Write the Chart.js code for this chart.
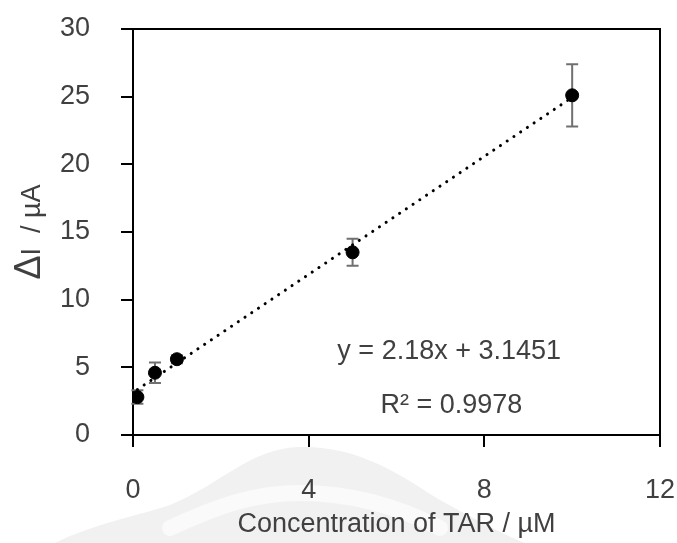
<!DOCTYPE html>
<html>
<head>
<meta charset="utf-8">
<script src="https://cdn.jsdelivr.net/npm/chart.js@4.4.1/dist/chart.umd.min.js"></script>
<style>
html, body { margin: 0; padding: 0; background: #fff; }
#wrap { width: 677px; height: 543px; }
</style>
</head>
<body>
<div id="wrap"><canvas id="tarChart" width="677" height="543"></canvas></div>
<script>
// calibration data
var conc = [0.1, 0.5, 1, 5, 10];
var deltaI = [2.8, 4.6, 5.6, 13.5, 25.1];
var errI = [0.5, 0.75, 0.3, 1.0, 2.3];

// linear fit endpoints (y = 2.18x + 3.1451)
var trendX = [0.1, 10];
var trendY = [3.36, 24.95];

var xTicks = [0, 4, 8, 12];
var yTicks = [0, 5, 10, 15, 20, 25, 30];
var eqText = 'y = 2.18x + 3.1451';
var r2Text = 'R\u00B2 = 0.9978';

var textColor = '#404040';
var fontFam = '"Liberation Sans", Arial, sans-serif';
var fs = 27;

var frame = {
	id: 'frame',
	beforeDraw: function(chart){
		// faint watermark behind the bottom of the figure
		var c = chart.ctx;
		c.save();
		c.fillStyle = '#f1f1f1';
		c.beginPath();
		c.moveTo(55, 543);
		c.bezierCurveTo(90, 525, 140, 515, 170, 505);
		c.bezierCurveTo(220, 485, 250, 448, 300, 447);
		c.bezierCurveTo(360, 446, 400, 475, 440, 500);
		c.bezierCurveTo(480, 522, 505, 535, 525, 543);
		c.closePath();
		c.fill();
		c.strokeStyle = '#fafafa';
		c.lineWidth = 16;
		c.lineCap = 'round';
		c.beginPath();
		c.moveTo(170, 528);
		c.bezierCurveTo(220, 505, 255, 493, 300, 493);
		c.bezierCurveTo(350, 493, 395, 505, 440, 528);
		c.stroke();
		c.restore();
	},
	beforeDatasetsDraw: function(chart){
		var c = chart.ctx, x = chart.scales.x, y = chart.scales.y;
		// error bars (behind markers)
		c.save();
		c.strokeStyle = '#707070';
		c.lineWidth = 2;
		for (var i = 0; i < conc.length; i++) {
			var px = x.getPixelForValue(conc[i]);
			var t = y.getPixelForValue(deltaI[i] + errI[i]);
			var b = y.getPixelForValue(deltaI[i] - errI[i]);
			c.beginPath();
			c.moveTo(px, t); c.lineTo(px, b);
			c.moveTo(px - 6, t); c.lineTo(px + 6, t);
			c.moveTo(px - 6, b); c.lineTo(px + 6, b);
			c.stroke();
		}
		c.restore();
	},
	afterDraw: function(chart){
		var c = chart.ctx, a = chart.chartArea, x = chart.scales.x, y = chart.scales.y;
		c.save();
		// top and right border
		c.strokeStyle = '#000';
		c.lineWidth = 2;
		c.beginPath();
		c.moveTo(a.left, a.top); c.lineTo(a.right, a.top); c.lineTo(a.right, a.bottom);
		c.stroke();
		// equation text
		c.fillStyle = textColor;
		c.font = fs + 'px ' + fontFam;
		c.textAlign = 'center';
		c.textBaseline = 'middle';
		c.fillText(eqText, x.getPixelForValue(7.2), y.getPixelForValue(6.2));
		c.fillText(r2Text, x.getPixelForValue(7.25), y.getPixelForValue(2.2));
		// y title: big delta + rest
		c.translate(40, 232);
		c.rotate(-Math.PI / 2);
		c.textBaseline = 'alphabetic';
		c.textAlign = 'left';
		c.font = '36px ' + fontFam;
		var dw = c.measureText('\u0394').width;
		c.font = fs + 'px ' + fontFam;
		var rest = 'I  / \u00B5A';
		var rw = c.measureText(rest).width;
		var sx = -(dw + rw) / 2;
		c.font = '36px ' + fontFam;
		c.fillText('\u0394', sx, 0);
		c.font = fs + 'px ' + fontFam;
		c.fillText(rest, sx + dw, 0);
		c.restore();
	}
};

new Chart(document.getElementById('tarChart'), {
	type: 'scatter',
	data: {
		datasets: [{
			label: 'trend',
			type: 'line',
			data: trendX.map(function(v, i){ return {x: v, y: trendY[i]}; }),
			borderColor: '#000',
			borderWidth: 3,
			borderDash: [0.1, 8],
			borderCapStyle: 'round',
			pointRadius: 0,
			fill: false
		}, {
			label: 'data',
			data: conc.map(function(v, i){ return {x: v, y: deltaI[i]}; }),
			backgroundColor: '#000',
			borderColor: '#000',
			pointRadius: 6.5,
			pointHoverRadius: 6.5
		}]
	},
	options: {
		responsive: false,
		animation: false,
		layout: { padding: { top: 29, right: 17, left: 0, bottom: 0 } },
		plugins: { legend: { display: false }, tooltip: { enabled: false } },
		scales: {
			x: {
				type: 'linear', min: 0, max: 12,
				afterBuildTicks: function(s){ s.ticks = xTicks.map(function(v){ return {value: v}; }); },
				afterFit: function(s){ s.height = 108; s.paddingLeft = 0; s.paddingRight = 0; },
				grid: { drawOnChartArea: false, drawTicks: true, tickLength: 12, color: '#000', lineWidth: 2 },
				border: { display: true, color: '#000', width: 2 },
				ticks: { color: textColor, font: { family: fontFam, size: fs }, padding: 27, maxRotation: 0 },
				title: { display: true, text: 'Concentration of TAR / \u00B5M', color: textColor,
					font: { family: fontFam, size: fs }, padding: { top: 0, bottom: 2 } }
			},
			y: {
				type: 'linear', min: 0, max: 30,
				afterBuildTicks: function(s){ s.ticks = yTicks.map(function(v){ return {value: v}; }); },
				afterFit: function(s){ s.width = 133; s.paddingTop = 0; s.paddingBottom = 0; },
				grid: { drawOnChartArea: false, drawTicks: true, tickLength: 12, color: '#000', lineWidth: 2 },
				border: { display: true, color: '#000', width: 2 },
				ticks: { color: textColor, font: { family: fontFam, size: fs }, padding: 31 }
			}
		}
	},
	plugins: [frame]
});
</script>
</body>
</html>
